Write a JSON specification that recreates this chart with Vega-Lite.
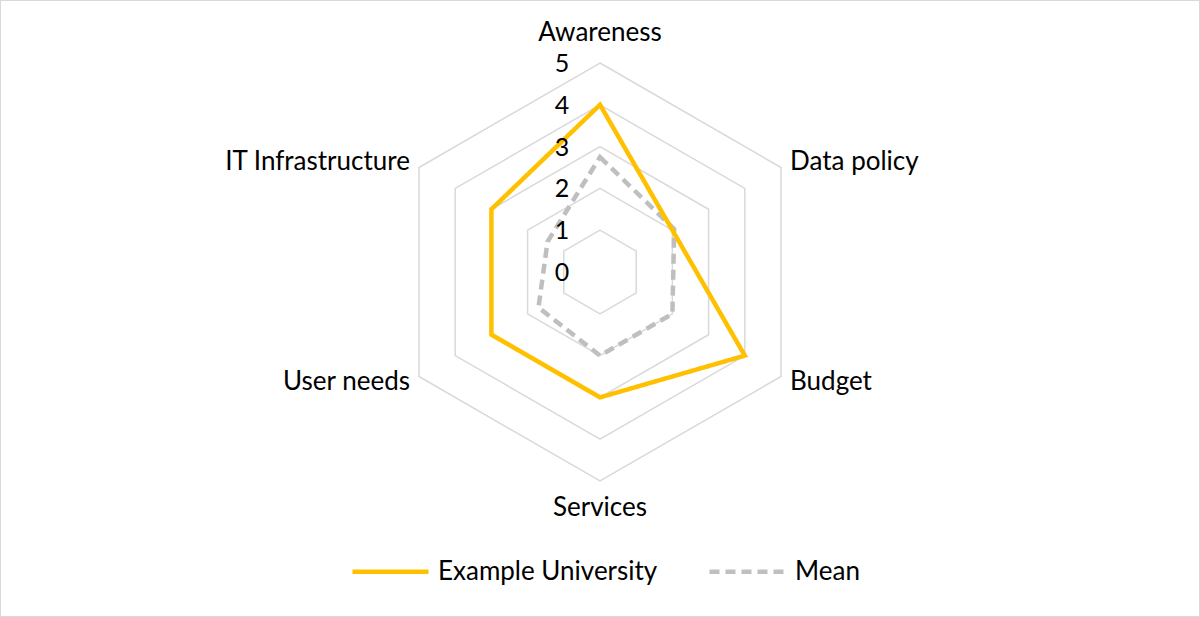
{
  "$schema": "https://vega.github.io/schema/vega-lite/v6.json",
  "width": 1200,
  "height": 617,
  "autosize": {"type": "none"},
  "padding": 0,
  "background": "white",
  "datasets": {
    "scores": [
      {"series": "Example University", "category": "Awareness", "value": 4},
      {"series": "Example University", "category": "Data policy", "value": 2},
      {"series": "Example University", "category": "Budget", "value": 4},
      {"series": "Example University", "category": "Services", "value": 3},
      {"series": "Example University", "category": "User needs", "value": 3},
      {"series": "Example University", "category": "IT Infrastructure", "value": 3},
      {"series": "Mean", "category": "Awareness", "value": 2.75},
      {"series": "Mean", "category": "Data policy", "value": 2.05},
      {"series": "Mean", "category": "Budget", "value": 2.0},
      {"series": "Mean", "category": "Services", "value": 2.0},
      {"series": "Mean", "category": "User needs", "value": 1.7},
      {"series": "Mean", "category": "IT Infrastructure", "value": 1.45}
    ],
    "levels": [
      {"level": 0}, {"level": 1}, {"level": 2}, {"level": 3}, {"level": 4}, {"level": 5}
    ],
    "categories": [
      {"category": "Awareness", "pos": "top"},
      {"category": "Data policy", "pos": "right"},
      {"category": "Budget", "pos": "right"},
      {"category": "Services", "pos": "bottom"},
      {"category": "User needs", "pos": "left"},
      {"category": "IT Infrastructure", "pos": "left"}
    ]
  },
  "encoding": {
    "x": {"field": "px", "type": "quantitative", "axis": null,
          "scale": {"domain": [-14.3541, 14.3541], "nice": false, "zero": false}},
    "y": {"field": "py", "type": "quantitative", "axis": null,
          "scale": {"domain": [-8.2536, 6.5072], "nice": false, "zero": false}}
  },
  "layer": [
    {
      "data": {"name": "levels"},
      "transform": [
        {"filter": "datum.level > 0"},
        {"calculate": "['Awareness','Data policy','Budget','Services','User needs','IT Infrastructure']", "as": "category"},
        {"flatten": ["category"]},
        {"calculate": "indexof(['Awareness','Data policy','Budget','Services','User needs','IT Infrastructure'], datum.category)", "as": "idx"},
        {"calculate": "PI/2 - datum.idx*PI/3", "as": "angle"},
        {"calculate": "datum.level*cos(datum.angle)", "as": "px"},
        {"calculate": "datum.level*sin(datum.angle)", "as": "py"}
      ],
      "mark": {"type": "line", "interpolate": "linear-closed", "stroke": "#d9d9d9", "strokeWidth": 1.5},
      "encoding": {
        "detail": {"field": "level", "type": "nominal"},
        "order": {"field": "idx", "type": "quantitative"}
      }
    },
    {
      "data": {"name": "scores"},
      "transform": [
        {"filter": "datum.series === 'Mean'"},
        {"calculate": "indexof(['Awareness','Data policy','Budget','Services','User needs','IT Infrastructure'], datum.category)", "as": "idx"},
        {"calculate": "PI/2 - datum.idx*PI/3", "as": "angle"},
        {"calculate": "datum.value*cos(datum.angle)", "as": "px"},
        {"calculate": "datum.value*sin(datum.angle)", "as": "py"}
      ],
      "mark": {"type": "line", "interpolate": "linear-closed", "strokeWidth": 4.5, "strokeCap": "butt"},
      "encoding": {
        "order": {"field": "idx", "type": "quantitative"},
        "color": {"field": "series", "type": "nominal",
                  "scale": {"domain": ["Example University", "Mean"], "range": ["#ffc000", "#bfbfbf"]},
                  "legend": {"title": null}},
        "strokeDash": {"field": "series", "type": "nominal",
                       "scale": {"domain": ["Example University", "Mean"], "range": [[1, 0], [10, 6]]},
                       "legend": {"title": null}}
      }
    },
    {
      "data": {"name": "scores"},
      "transform": [
        {"filter": "datum.series === 'Example University'"},
        {"calculate": "indexof(['Awareness','Data policy','Budget','Services','User needs','IT Infrastructure'], datum.category)", "as": "idx"},
        {"calculate": "PI/2 - datum.idx*PI/3", "as": "angle"},
        {"calculate": "datum.value*cos(datum.angle)", "as": "px"},
        {"calculate": "datum.value*sin(datum.angle)", "as": "py"}
      ],
      "mark": {"type": "line", "interpolate": "linear-closed", "strokeWidth": 4.5},
      "encoding": {
        "order": {"field": "idx", "type": "quantitative"},
        "color": {"field": "series", "type": "nominal"},
        "strokeDash": {"field": "series", "type": "nominal"}
      }
    },
    {
      "data": {"name": "levels"},
      "transform": [
        {"calculate": "0", "as": "px"},
        {"calculate": "datum.level", "as": "py"}
      ],
      "mark": {"type": "text", "align": "center", "baseline": "middle", "dx": -38, "dy": 1,
               "fontSize": 25, "font": "Lato", "color": "black"},
      "encoding": {"text": {"field": "level", "type": "quantitative"}}
    },
    {
      "data": {"name": "categories"},
      "transform": [
        {"filter": "datum.pos === 'right'"},
        {"calculate": "indexof(['Awareness','Data policy','Budget','Services','User needs','IT Infrastructure'], datum.category)", "as": "idx"},
        {"calculate": "PI/2 - datum.idx*PI/3", "as": "angle"},
        {"calculate": "5.25*cos(datum.angle)", "as": "px"},
        {"calculate": "5.25*sin(datum.angle)", "as": "py"}
      ],
      "mark": {"type": "text", "align": "left", "baseline": "middle", "fontSize": 26, "font": "Lato", "color": "black"},
      "encoding": {"text": {"field": "category", "type": "nominal"}}
    },
    {
      "data": {"name": "categories"},
      "transform": [
        {"filter": "datum.pos === 'left'"},
        {"calculate": "indexof(['Awareness','Data policy','Budget','Services','User needs','IT Infrastructure'], datum.category)", "as": "idx"},
        {"calculate": "PI/2 - datum.idx*PI/3", "as": "angle"},
        {"calculate": "5.25*cos(datum.angle)", "as": "px"},
        {"calculate": "5.25*sin(datum.angle)", "as": "py"}
      ],
      "mark": {"type": "text", "align": "right", "baseline": "middle", "fontSize": 26, "font": "Lato", "color": "black"},
      "encoding": {"text": {"field": "category", "type": "nominal"}}
    },
    {
      "data": {"name": "categories"},
      "transform": [
        {"filter": "datum.pos === 'top'"},
        {"calculate": "indexof(['Awareness','Data policy','Budget','Services','User needs','IT Infrastructure'], datum.category)", "as": "idx"},
        {"calculate": "PI/2 - datum.idx*PI/3", "as": "angle"},
        {"calculate": "5.25*cos(datum.angle)", "as": "px"},
        {"calculate": "5.25*sin(datum.angle)", "as": "py"}
      ],
      "mark": {"type": "text", "align": "center", "baseline": "middle", "dy": -20, "fontSize": 26, "font": "Lato", "color": "black"},
      "encoding": {"text": {"field": "category", "type": "nominal"}}
    },
    {
      "data": {"name": "categories"},
      "transform": [
        {"filter": "datum.pos === 'bottom'"},
        {"calculate": "indexof(['Awareness','Data policy','Budget','Services','User needs','IT Infrastructure'], datum.category)", "as": "idx"},
        {"calculate": "PI/2 - datum.idx*PI/3", "as": "angle"},
        {"calculate": "5.25*cos(datum.angle)", "as": "px"},
        {"calculate": "5.25*sin(datum.angle)", "as": "py"}
      ],
      "mark": {"type": "text", "align": "center", "baseline": "middle", "dy": 17, "fontSize": 26, "font": "Lato", "color": "black"},
      "encoding": {"text": {"field": "category", "type": "nominal"}}
    }
  ],
  "config": {
    "view": {"stroke": "#d9d9d9", "strokeWidth": 2},
    "font": "Lato",
    "legend": {
      "orient": "none",
      "legendX": 350,
      "legendY": 531,
      "direction": "horizontal",
      "symbolType": "stroke",
      "symbolSize": 5776,
      "symbolStrokeWidth": 4.5,
      "labelFont": "Lato",
      "labelFontSize": 26,
      "labelColor": "black",
      "labelLimit": 400,
      "labelOffset": 7,
      "columnPadding": 42
    }
  }
}
